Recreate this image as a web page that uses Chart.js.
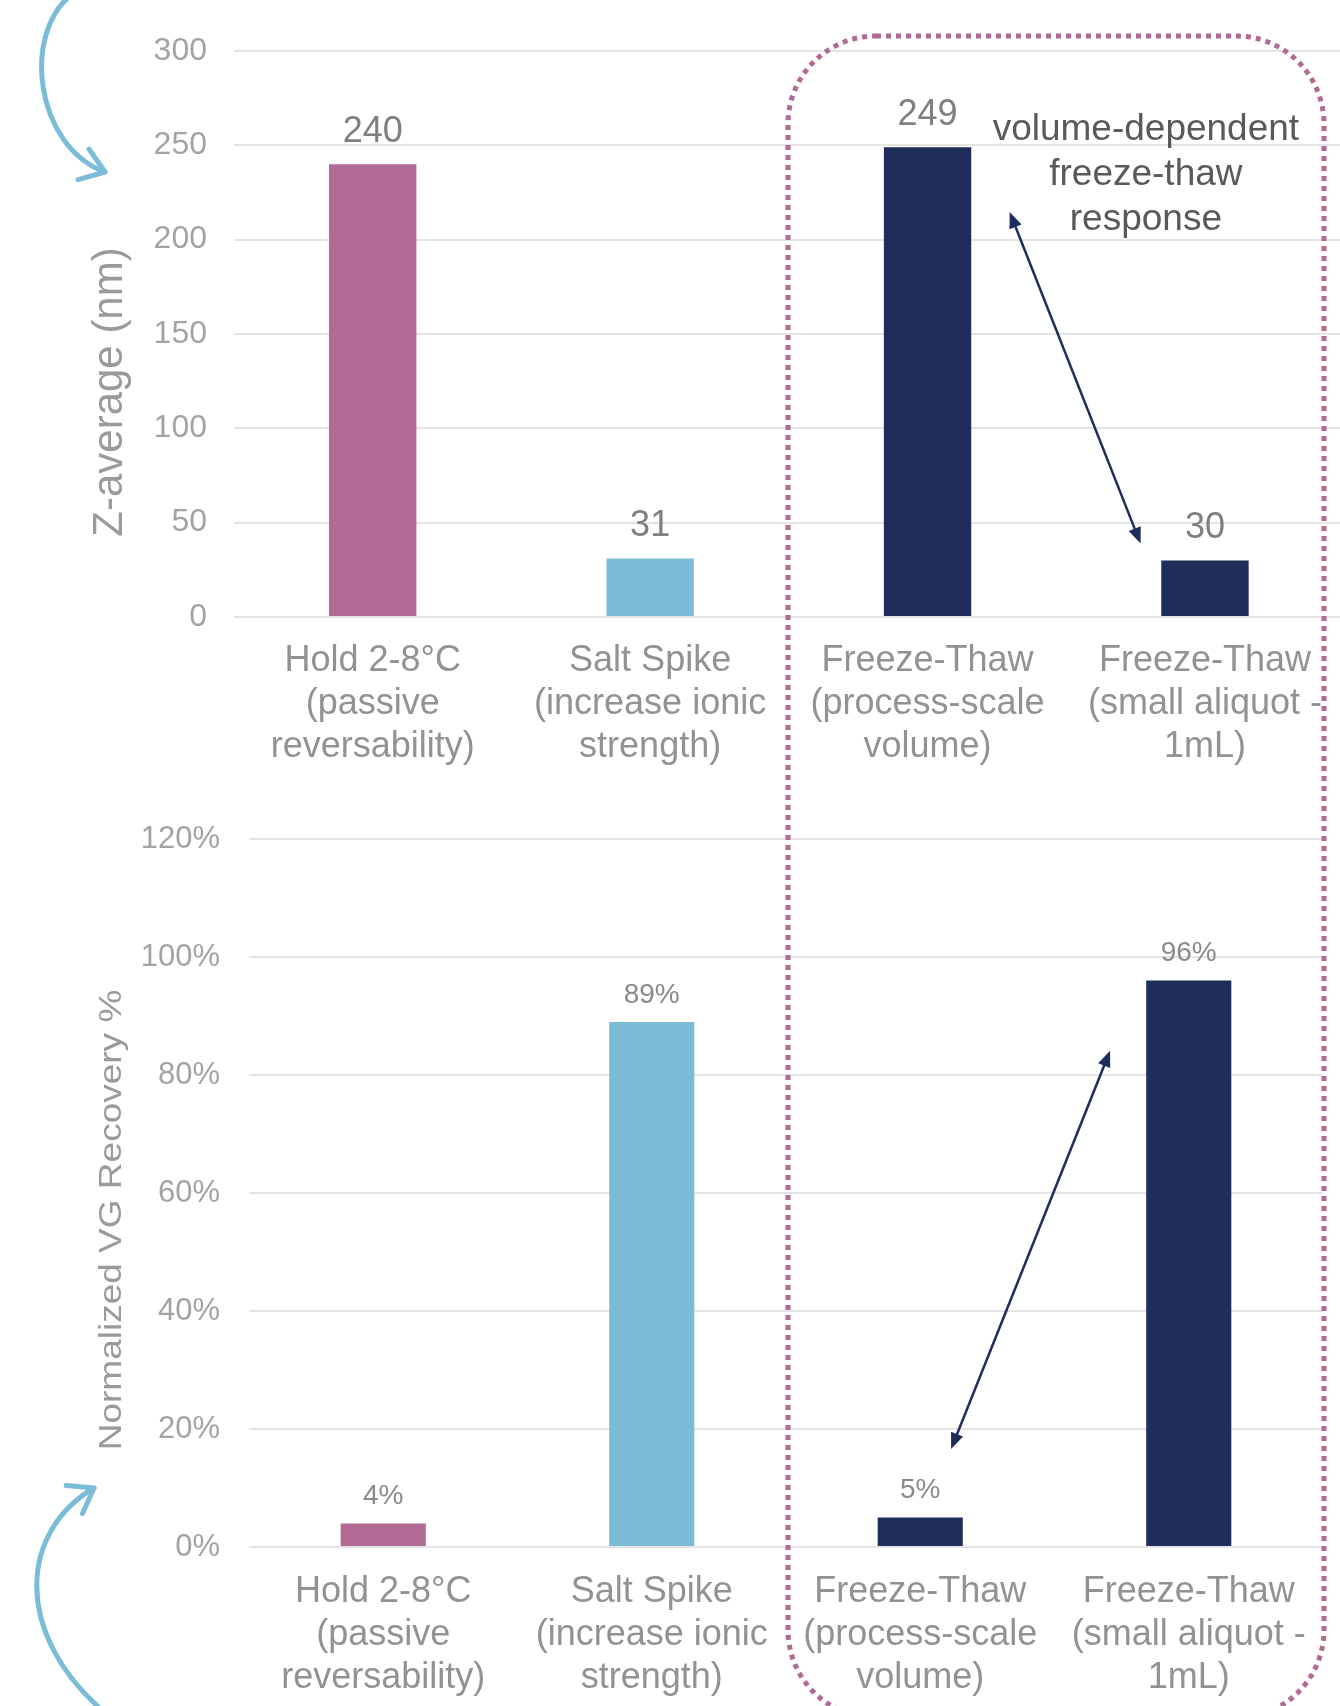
<!DOCTYPE html>
<html>
<head>
<meta charset="utf-8">
<script src="https://cdn.jsdelivr.net/npm/chart.js@4.4.1/dist/chart.umd.min.js"></script>
<style>
html,body{margin:0;padding:0;background:#fff;overflow:hidden;width:1340px;height:1706px;}
#wrap{position:relative;width:1340px;height:1706px;overflow:hidden;}
canvas{position:absolute;left:0;}
#c1{top:0;}
#c2{top:770px;}
#ov{top:0;pointer-events:none;}
</style>
</head>
<body>
<div id="wrap">
<canvas id="c1" width="1344" height="770"></canvas>
<canvas id="c2" width="1340" height="936"></canvas>
<canvas id="ov" width="1340" height="1706"></canvas>
</div>
<script>
// ---------- DATA ----------
const categories = [
  ["Hold 2-8°C", "(passive", "reversability)"],
  ["Salt Spike", "(increase ionic", "strength)"],
  ["Freeze-Thaw", "(process-scale", "volume)"],
  ["Freeze-Thaw", "(small aliquot -", "1mL)"]
];
const zAverage = [240, 31, 249, 30];
const vgRecovery = [4, 89, 5, 96];
const barColors = ["#b06a94", "#7bbbd6", "#1e2d5a", "#1e2d5a"];
const zAxis = { min: 0, max: 300, step: 50 };
const vgAxis = { min: 0, max: 120, step: 20 };
const zTitle = "Z-average (nm)";
const vgTitle = "Normalized VG Recovery %";
const noteLines = ["volume-dependent", "freeze-thaw", "response"];
// double arrows: [categoryIndex, value] for both ends
const zArrow = [[2.296, 214.7], [2.768, 38.9]];
const vgArrow = [[2.115, 16.6], [2.707, 84.1]];
const notePos = [2.787, 258];

// ---------- STYLE ----------
const FONT = "'Liberation Sans', Arial, Helvetica, sans-serif";
Chart.defaults.font.family = FONT;
const NAVY = "#1f2d5a";

function valueLabels(fmt, size, color, offset) {
  return {
    id: 'valueLabels',
    afterDatasetsDraw(chart) {
      const ctx = chart.ctx;
      const meta = chart.getDatasetMeta(0);
      const vals = chart.data.datasets[0].data;
      ctx.save();
      ctx.font = size + 'px ' + FONT;
      ctx.fillStyle = color;
      ctx.textAlign = 'center';
      ctx.textBaseline = 'middle';
      meta.data.forEach((bar, i) => ctx.fillText(fmt(vals[i]), bar.x, bar.y - offset));
      ctx.restore();
    }
  };
}

function yTitle(text, x, y, size, squash) {
  return {
    id: 'yTitle',
    afterDraw(chart) {
      const ctx = chart.ctx;
      ctx.save();
      ctx.translate(x, y);
      ctx.rotate(-Math.PI / 2);
      ctx.scale(1, squash);
      ctx.font = size + 'px ' + FONT;
      ctx.fillStyle = '#9a9a9a';
      ctx.textAlign = 'center';
      ctx.textBaseline = 'middle';
      ctx.fillText(text, 0, 0);
      ctx.restore();
    }
  };
}

function drawHead(ctx, x, y, ang, len, half) {
  ctx.beginPath();
  ctx.moveTo(x, y);
  ctx.lineTo(x - len * Math.cos(ang) + half * Math.sin(ang), y - len * Math.sin(ang) - half * Math.cos(ang));
  ctx.lineTo(x - len * Math.cos(ang) - half * Math.sin(ang), y - len * Math.sin(ang) + half * Math.cos(ang));
  ctx.closePath();
  ctx.fill();
}

function doubleArrow(ends) {
  return {
    id: 'doubleArrow',
    afterDraw(chart) {
      const xs = chart.scales.x, ys = chart.scales.y, ctx = chart.ctx;
      const x1 = xs.getPixelForValue(ends[0][0]), y1 = ys.getPixelForValue(ends[0][1]);
      const x2 = xs.getPixelForValue(ends[1][0]), y2 = ys.getPixelForValue(ends[1][1]);
      const ang = Math.atan2(y2 - y1, x2 - x1);
      const len = 16;
      ctx.save();
      ctx.strokeStyle = NAVY; ctx.fillStyle = NAVY; ctx.lineWidth = 2.5;
      ctx.beginPath();
      ctx.moveTo(x1 + Math.cos(ang) * (len - 2), y1 + Math.sin(ang) * (len - 2));
      ctx.lineTo(x2 - Math.cos(ang) * (len - 2), y2 - Math.sin(ang) * (len - 2));
      ctx.stroke();
      drawHead(ctx, x2, y2, ang, len, 6.5);
      drawHead(ctx, x1, y1, ang + Math.PI, len, 6.5);
      ctx.restore();
    }
  };
}

const noteText = {
  id: 'noteText',
  afterDraw(chart) {
    const ctx = chart.ctx;
    const x = chart.scales.x.getPixelForValue(notePos[0]);
    const y = chart.scales.y.getPixelForValue(notePos[1]);
    ctx.save();
    ctx.font = '37px ' + FONT;
    ctx.fillStyle = '#595959';
    ctx.textAlign = 'center';
    ctx.textBaseline = 'middle';
    noteLines.forEach((t, i) => ctx.fillText(t, x, y + i * 44.6));
    ctx.restore();
  }
};

function baseOptions(axis, opts) {
  return {
    animation: false,
    responsive: false,
    events: [],
    layout: { padding: opts.padding },
    plugins: { legend: { display: false }, tooltip: { enabled: false } },
    scales: {
      x: {
        grid: { display: false, drawTicks: false },
        border: { display: false },
        ticks: {
          color: '#929292',
          font: { size: 36, lineHeight: 1.2 },
          padding: opts.xPad,
          maxRotation: 0,
          autoSkip: false
        },
        afterFit(s) { s.height = opts.xHeight; }
      },
      y: {
        min: axis.min,
        max: axis.max,
        ticks: {
          stepSize: axis.step,
          color: '#a3a3a3',
          font: { size: opts.tickSize },
          padding: opts.yPad,
          callback: opts.fmt
        },
        grid: { color: '#e4e4e4', lineWidth: 2, drawTicks: false },
        border: { display: false },
        afterFit(s) { s.width = opts.yWidth; }
      }
    }
  };
}

// ---------- TOP CHART ----------
new Chart(document.getElementById('c1'), {
  type: 'bar',
  data: {
    labels: categories,
    datasets: [{ data: zAverage, backgroundColor: barColors, barPercentage: 0.315, categoryPercentage: 1 }]
  },
  options: baseOptions(zAxis, {
    padding: { top: 51, right: 0, left: 0, bottom: 0 },
    xPad: 22, xHeight: 153, yPad: 27, yWidth: 234, tickSize: 32,
    fmt: v => String(v)
  }),
  plugins: [valueLabels(v => String(v), 36, '#7f7f7f', 32), yTitle(zTitle, 110, 392, 42, 1), doubleArrow(zArrow), noteText]
});

// ---------- BOTTOM CHART ----------
new Chart(document.getElementById('c2'), {
  type: 'bar',
  data: {
    labels: categories,
    datasets: [{ data: vgRecovery, backgroundColor: barColors, barPercentage: 0.317, categoryPercentage: 1 }]
  },
  options: baseOptions(vgAxis, {
    padding: { top: 69, right: 17, left: 0, bottom: 0 },
    xPad: 23, xHeight: 159, yPad: 29, yWidth: 249, tickSize: 31,
    fmt: v => v + '%'
  }),
  plugins: [valueLabels(v => v + '%', 28, '#8a8a8a', 27), yTitle(vgTitle, 112, 450, 37, 0.85), doubleArrow(vgArrow)]
});

// ---------- OVERLAY DECORATIONS ----------
(function () {
  const ctx = document.getElementById('ov').getContext('2d');
  // dotted rounded frame around freeze-thaw groups
  ctx.save();
  ctx.strokeStyle = '#b06a94';
  ctx.lineWidth = 5;
  ctx.setLineDash([5, 5]);
  ctx.beginPath();
  ctx.roundRect(788, 36, 536, 1682, 88);
  ctx.stroke();
  ctx.restore();

  // blue curved arrows
  function curvedArrow(p0, p1, p2, p3) {
    ctx.save();
    ctx.strokeStyle = '#7bbcd8';
    ctx.lineWidth = 5;
    ctx.lineCap = 'round';
    ctx.lineJoin = 'round';
    ctx.beginPath();
    ctx.moveTo(p0[0], p0[1]);
    ctx.bezierCurveTo(p1[0], p1[1], p2[0], p2[1], p3[0], p3[1]);
    ctx.stroke();
    const ang = Math.atan2(p3[1] - p2[1], p3[0] - p2[0]);
    const L = 28, a = 0.62;
    ctx.beginPath();
    ctx.moveTo(p3[0] - L * Math.cos(ang - a), p3[1] - L * Math.sin(ang - a));
    ctx.lineTo(p3[0], p3[1]);
    ctx.lineTo(p3[0] - L * Math.cos(ang + a), p3[1] - L * Math.sin(ang + a));
    ctx.stroke();
    ctx.restore();
  }
  curvedArrow([75, -8], [20, 30], [35, 147], [105, 172]);
  curvedArrow([104, 1712], [10, 1630], [22, 1530], [94, 1488]);
})();
</script>
</body>
</html>
